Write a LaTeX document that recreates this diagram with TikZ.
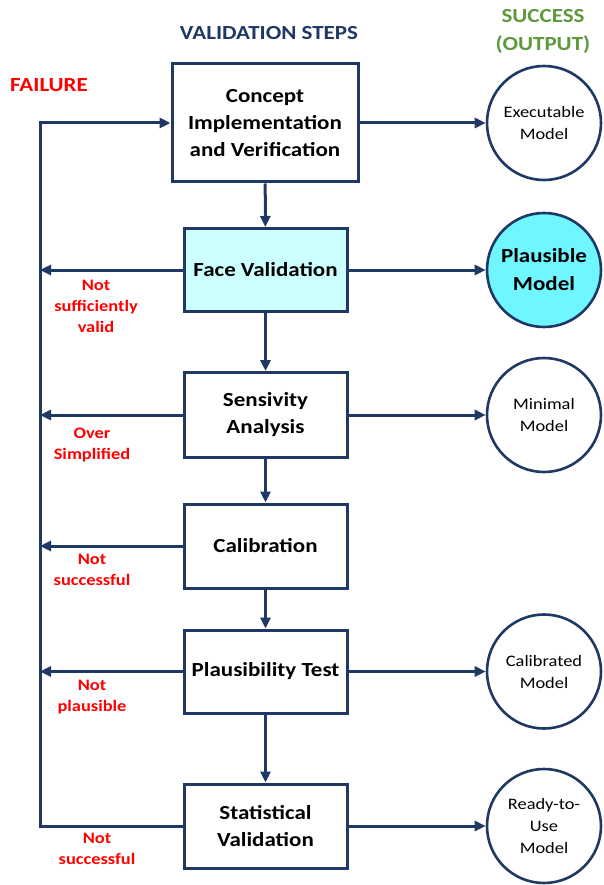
\documentclass[tikz,border=0pt]{standalone}
\usepackage{fontspec}
\setmainfont{Carlito}[FakeStretch=1.15]
\usetikzlibrary{arrows.meta}
\definecolor{navy}{HTML}{1F3864}
\definecolor{facefill}{HTML}{CCFFFF}
\definecolor{plausfill}{HTML}{6FF6FF}
\definecolor{okgreen}{HTML}{5E9A3C}
\definecolor{failred}{HTML}{FF0000}
\tikzset{
  stepbox/.style={draw=navy, line width=3pt, fill=white, minimum width=163pt, minimum height=84pt, align=center, inner sep=0pt, font=\fontsize{20}{27}\selectfont\bfseries},
  outcircle/.style={draw=navy, line width=2.6pt, fill=white, circle, minimum size=114pt, inner sep=0pt, align=center, font=\fontsize{16}{22}\selectfont},
  conn/.style={draw=navy, line width=3pt},
  arr/.style={conn, -{Triangle[length=11pt,width=10pt]}},
  faillabel/.style={text=failred, align=center, font=\fontsize{16}{21}\selectfont\bfseries},
}
\begin{document}
\begin{tikzpicture}[x=1pt, y=-1pt]
\useasboundingbox (0,0) rectangle (603,885);
% headings
\node[text=failred, font=\fontsize{20}{24}\selectfont\bfseries] (hfail) at (49,85) {FAILURE};
\node[text=navy, font=\fontsize{20}{24}\selectfont\bfseries] (hsteps) at (269,33) {VALIDATION STEPS};
\node[text=okgreen, align=center, font=\fontsize{20}{28}\selectfont\bfseries] (hsucc) at (543,31) {SUCCESS\\(OUTPUT)};
% steps
\node[stepbox, minimum width=186pt, minimum height=118pt] (b1) at (265,123) {Concept\\Implementation\\and Verification};
\node[stepbox, fill=facefill, minimum height=83pt] (b2) at (265.5,270) {Face Validation};
\node[stepbox, minimum height=85pt] (b3) at (265.5,415) {Sensivity\\Analysis};
\node[stepbox] (b4) at (265.5,546) {Calibration};
\node[stepbox, minimum height=83pt] (b5) at (265.5,671.5) {Plausibility Test};
\node[stepbox] (b6) at (265.5,826) {Statistical\\Validation};
% outputs
\node[outcircle] (c1) at (544,123) {Executable\\Model};
\node[outcircle, fill=plausfill, font=\fontsize{20}{28}\selectfont\bfseries] (c2) at (544,270) {Plausible\\Model};
\node[outcircle] (c3) at (544,415) {Minimal\\Model};
\node[outcircle] (c5) at (544,671.5) {Calibrated\\Model};
\node[outcircle] (c6) at (544,826) {Ready-to-\\Use\\Model};
% left rail
\coordinate (L) at (40,0);
% down arrows
\draw[arr] (b1) -- (b2);
\draw[arr] (b2) -- (b3);
\draw[arr] (b3) -- (b4);
\draw[arr] (b4) -- (b5);
\draw[arr] (b5) -- (b6);
% success arrows
\draw[arr] (b1) -- (c1);
\draw[arr] (b2) -- (c2);
\draw[arr] (b3) -- (c3);
\draw[arr] (b5) -- (c5);
\draw[arr] (b6) -- (c6);
% failure loop
\draw[arr] (b6.west) -- (b6.west -| L) -- (b1.west -| L) -- (b1.west);
\draw[arr] (b2.west) -- (b2.west -| L);
\draw[arr] (b3.west) -- (b3.west -| L);
\draw[arr] (b4.west) -- (b4.west -| L);
\draw[arr] (b5.west) -- (b5.west -| L);
% failure labels
\node[faillabel] (f2) at (96,306) {Not\\sufficiently\\valid};
\node[faillabel] (f3) at (92,445) {Over\\Simplified};
\node[faillabel] (f4) at (92,570) {Not\\successful};
\node[faillabel] (f5) at (92,697) {Not\\plausible};
\node[faillabel] (f6) at (97,849) {Not\\successful};
\end{tikzpicture}
\end{document}
